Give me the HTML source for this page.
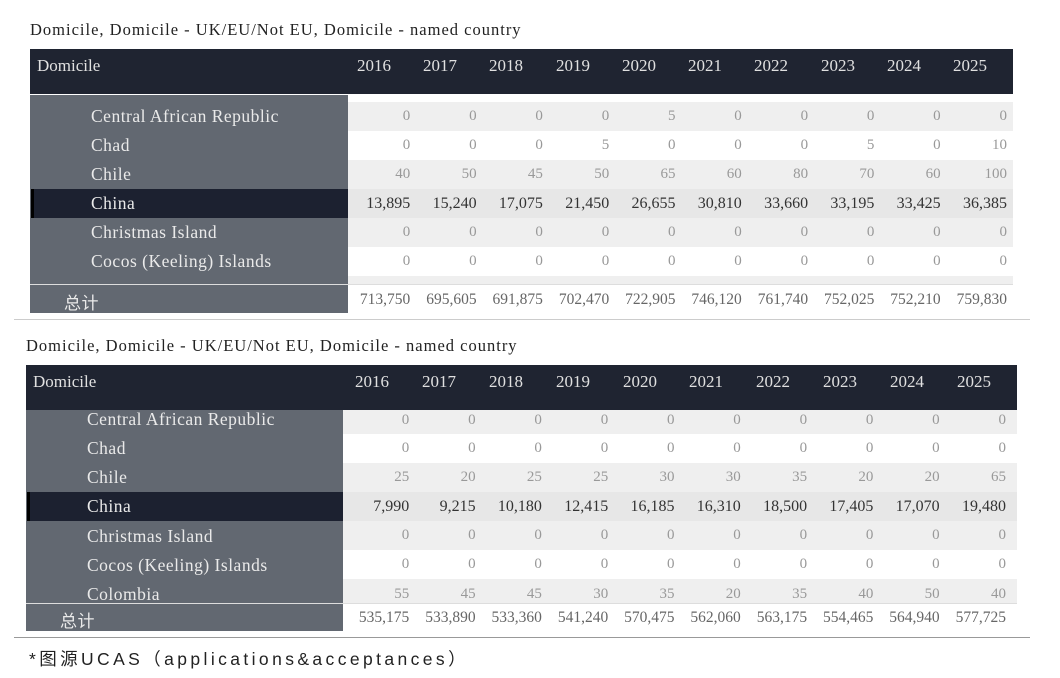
<!DOCTYPE html>
<html><head><meta charset="utf-8"><style>
*{margin:0;padding:0;box-sizing:border-box}
body{width:1060px;height:678px;background:#fff;position:relative;overflow:hidden;font-family:"Liberation Serif","Noto Serif CJK SC",serif}
.a{position:absolute}
.t{font-size:16.5px;color:#222;white-space:nowrap;letter-spacing:1px}
.hd{background:#1f2431}
.hd span{position:absolute;top:7px;color:#e0e0e0;font-size:17px}
.lp{background:#626871}
.row{position:absolute;display:flex;height:29px;align-items:center}
.row div{width:66.3px;text-align:right;font-size:15px;color:#999}
.row.cn div{color:#333;font-size:16px}
.row.tot div{color:#666;font-size:15.5px}
.lb{position:absolute;color:#eaeaea;font-size:17.5px;white-space:nowrap;letter-spacing:0.5px}
.g{background:#efefef}.g2{background:#e7e7e7}
</style></head><body>

<!-- TABLE 1 -->
<div class="a t" style="left:30px;top:20px">Domicile, Domicile - UK/EU/Not EU, Domicile - named country</div>
<div class="a hd" style="left:30px;top:49px;width:983px;height:45px">
<span style="left:7px">Domicile</span>
<span style="left:327px">2016</span><span style="left:393px">2017</span><span style="left:459px">2018</span><span style="left:526px">2019</span><span style="left:592px">2020</span><span style="left:658px">2021</span><span style="left:724px">2022</span><span style="left:791px">2023</span><span style="left:857px">2024</span><span style="left:923px">2025</span>
</div>
<div class="a g" style="left:348px;top:102px;width:665px;height:29px"></div>
<div class="a g" style="left:348px;top:160px;width:665px;height:29px"></div>
<div class="a g2" style="left:348px;top:189px;width:665px;height:29px"></div>
<div class="a g" style="left:348px;top:218px;width:665px;height:29px"></div>
<div class="a g" style="left:348px;top:276px;width:665px;height:8px"></div>
<div class="a lp" style="left:30px;top:95px;width:318px;height:189px"></div>
<div class="a" style="left:31px;top:189px;width:317px;height:29px;background:#1c2130;border-left:3px solid #000"></div>
<div class="a" style="left:30px;top:284px;width:983px;height:1px;background:#ddd"></div>
<div class="a lp" style="left:30px;top:285px;width:318px;height:28px"></div>
<div class="lb" style="left:91px;top:106px">Central African Republic</div>
<div class="lb" style="left:91px;top:135px">Chad</div>
<div class="lb" style="left:91px;top:164px">Chile</div>
<div class="lb" style="left:91px;top:193px">China</div>
<div class="lb" style="left:91px;top:222px">Christmas Island</div>
<div class="lb" style="left:91px;top:251px">Cocos (Keeling) Islands</div>
<div class="lb" style="left:64px;top:289px;font-family:'Noto Sans CJK SC',sans-serif;font-size:17px">总计</div>
<div class="row" style="left:344px;top:102px"><div>0</div><div>0</div><div>0</div><div>0</div><div>5</div><div>0</div><div>0</div><div>0</div><div>0</div><div>0</div></div>
<div class="row" style="left:344px;top:131px"><div>0</div><div>0</div><div>0</div><div>5</div><div>0</div><div>0</div><div>0</div><div>5</div><div>0</div><div>10</div></div>
<div class="row" style="left:344px;top:160px"><div>40</div><div>50</div><div>45</div><div>50</div><div>65</div><div>60</div><div>80</div><div>70</div><div>60</div><div>100</div></div>
<div class="row cn" style="left:344px;top:189px"><div>13,895</div><div>15,240</div><div>17,075</div><div>21,450</div><div>26,655</div><div>30,810</div><div>33,660</div><div>33,195</div><div>33,425</div><div>36,385</div></div>
<div class="row" style="left:344px;top:218px"><div>0</div><div>0</div><div>0</div><div>0</div><div>0</div><div>0</div><div>0</div><div>0</div><div>0</div><div>0</div></div>
<div class="row" style="left:344px;top:247px"><div>0</div><div>0</div><div>0</div><div>0</div><div>0</div><div>0</div><div>0</div><div>0</div><div>0</div><div>0</div></div>
<div class="row tot" style="left:344px;top:285px"><div>713,750</div><div>695,605</div><div>691,875</div><div>702,470</div><div>722,905</div><div>746,120</div><div>761,740</div><div>752,025</div><div>752,210</div><div>759,830</div></div>
<div class="a" style="left:14px;top:319px;width:1016px;height:1px;background:#ccc"></div>

<!-- TABLE 2 -->
<div class="a t" style="left:26px;top:336px">Domicile, Domicile - UK/EU/Not EU, Domicile - named country</div>
<div class="a hd" style="left:26px;top:365px;width:991px;height:45px">
<span style="left:7px">Domicile</span>
<span style="left:329px">2016</span><span style="left:396px">2017</span><span style="left:463px">2018</span><span style="left:530px">2019</span><span style="left:597px">2020</span><span style="left:663px">2021</span><span style="left:730px">2022</span><span style="left:797px">2023</span><span style="left:864px">2024</span><span style="left:931px">2025</span>
</div>
<div class="a g" style="left:343px;top:410px;width:674px;height:24px"></div>
<div class="a g" style="left:343px;top:463px;width:674px;height:29px"></div>
<div class="a g2" style="left:343px;top:492px;width:674px;height:29px"></div>
<div class="a g" style="left:343px;top:521px;width:674px;height:29px"></div>
<div class="a g" style="left:343px;top:579px;width:674px;height:24px"></div>
<div class="a lp" style="left:26px;top:410px;width:317px;height:193px"></div>
<div class="a" style="left:27px;top:492px;width:316px;height:29px;background:#1c2130;border-left:3px solid #000"></div>
<div class="a" style="left:26px;top:603px;width:991px;height:1px;background:#ddd"></div>
<div class="a lp" style="left:26px;top:604px;width:317px;height:27px"></div>
<div class="lb" style="left:87px;top:409px">Central African Republic</div>
<div class="lb" style="left:87px;top:438px">Chad</div>
<div class="lb" style="left:87px;top:467px">Chile</div>
<div class="lb" style="left:87px;top:496px">China</div>
<div class="lb" style="left:87px;top:526px">Christmas Island</div>
<div class="lb" style="left:87px;top:555px">Cocos (Keeling) Islands</div>
<div class="a" style="left:26px;top:580px;width:317px;height:23px;overflow:hidden"><div class="lb" style="left:61px;top:4px">Colombia</div></div>
<div class="lb" style="left:60px;top:607px;font-family:'Noto Sans CJK SC',sans-serif;font-size:17px">总计</div>
<div class="row" style="left:343px;top:406px;height:28px"><div>0</div><div>0</div><div>0</div><div>0</div><div>0</div><div>0</div><div>0</div><div>0</div><div>0</div><div>0</div></div>
<div class="row" style="left:343px;top:434px"><div>0</div><div>0</div><div>0</div><div>0</div><div>0</div><div>0</div><div>0</div><div>0</div><div>0</div><div>0</div></div>
<div class="row" style="left:343px;top:463px"><div>25</div><div>20</div><div>25</div><div>25</div><div>30</div><div>30</div><div>35</div><div>20</div><div>20</div><div>65</div></div>
<div class="row cn" style="left:343px;top:492px"><div>7,990</div><div>9,215</div><div>10,180</div><div>12,415</div><div>16,185</div><div>16,310</div><div>18,500</div><div>17,405</div><div>17,070</div><div>19,480</div></div>
<div class="row" style="left:343px;top:521px"><div>0</div><div>0</div><div>0</div><div>0</div><div>0</div><div>0</div><div>0</div><div>0</div><div>0</div><div>0</div></div>
<div class="row" style="left:343px;top:550px"><div>0</div><div>0</div><div>0</div><div>0</div><div>0</div><div>0</div><div>0</div><div>0</div><div>0</div><div>0</div></div>
<div class="row" style="left:343px;top:580px"><div>55</div><div>45</div><div>45</div><div>30</div><div>35</div><div>20</div><div>35</div><div>40</div><div>50</div><div>40</div></div>
<div class="row tot" style="left:343px;top:603px"><div>535,175</div><div>533,890</div><div>533,360</div><div>541,240</div><div>570,475</div><div>562,060</div><div>563,175</div><div>554,465</div><div>564,940</div><div>577,725</div></div>
<div class="a" style="left:14px;top:637px;width:1016px;height:1px;background:#999"></div>

<div class="a" style="left:29px;top:646px;font-family:'Liberation Sans','Noto Sans CJK SC',sans-serif;font-size:17.5px;letter-spacing:3.4px;color:#222;white-space:nowrap">*图源UCAS（applications&amp;acceptances）</div>
</body></html>
